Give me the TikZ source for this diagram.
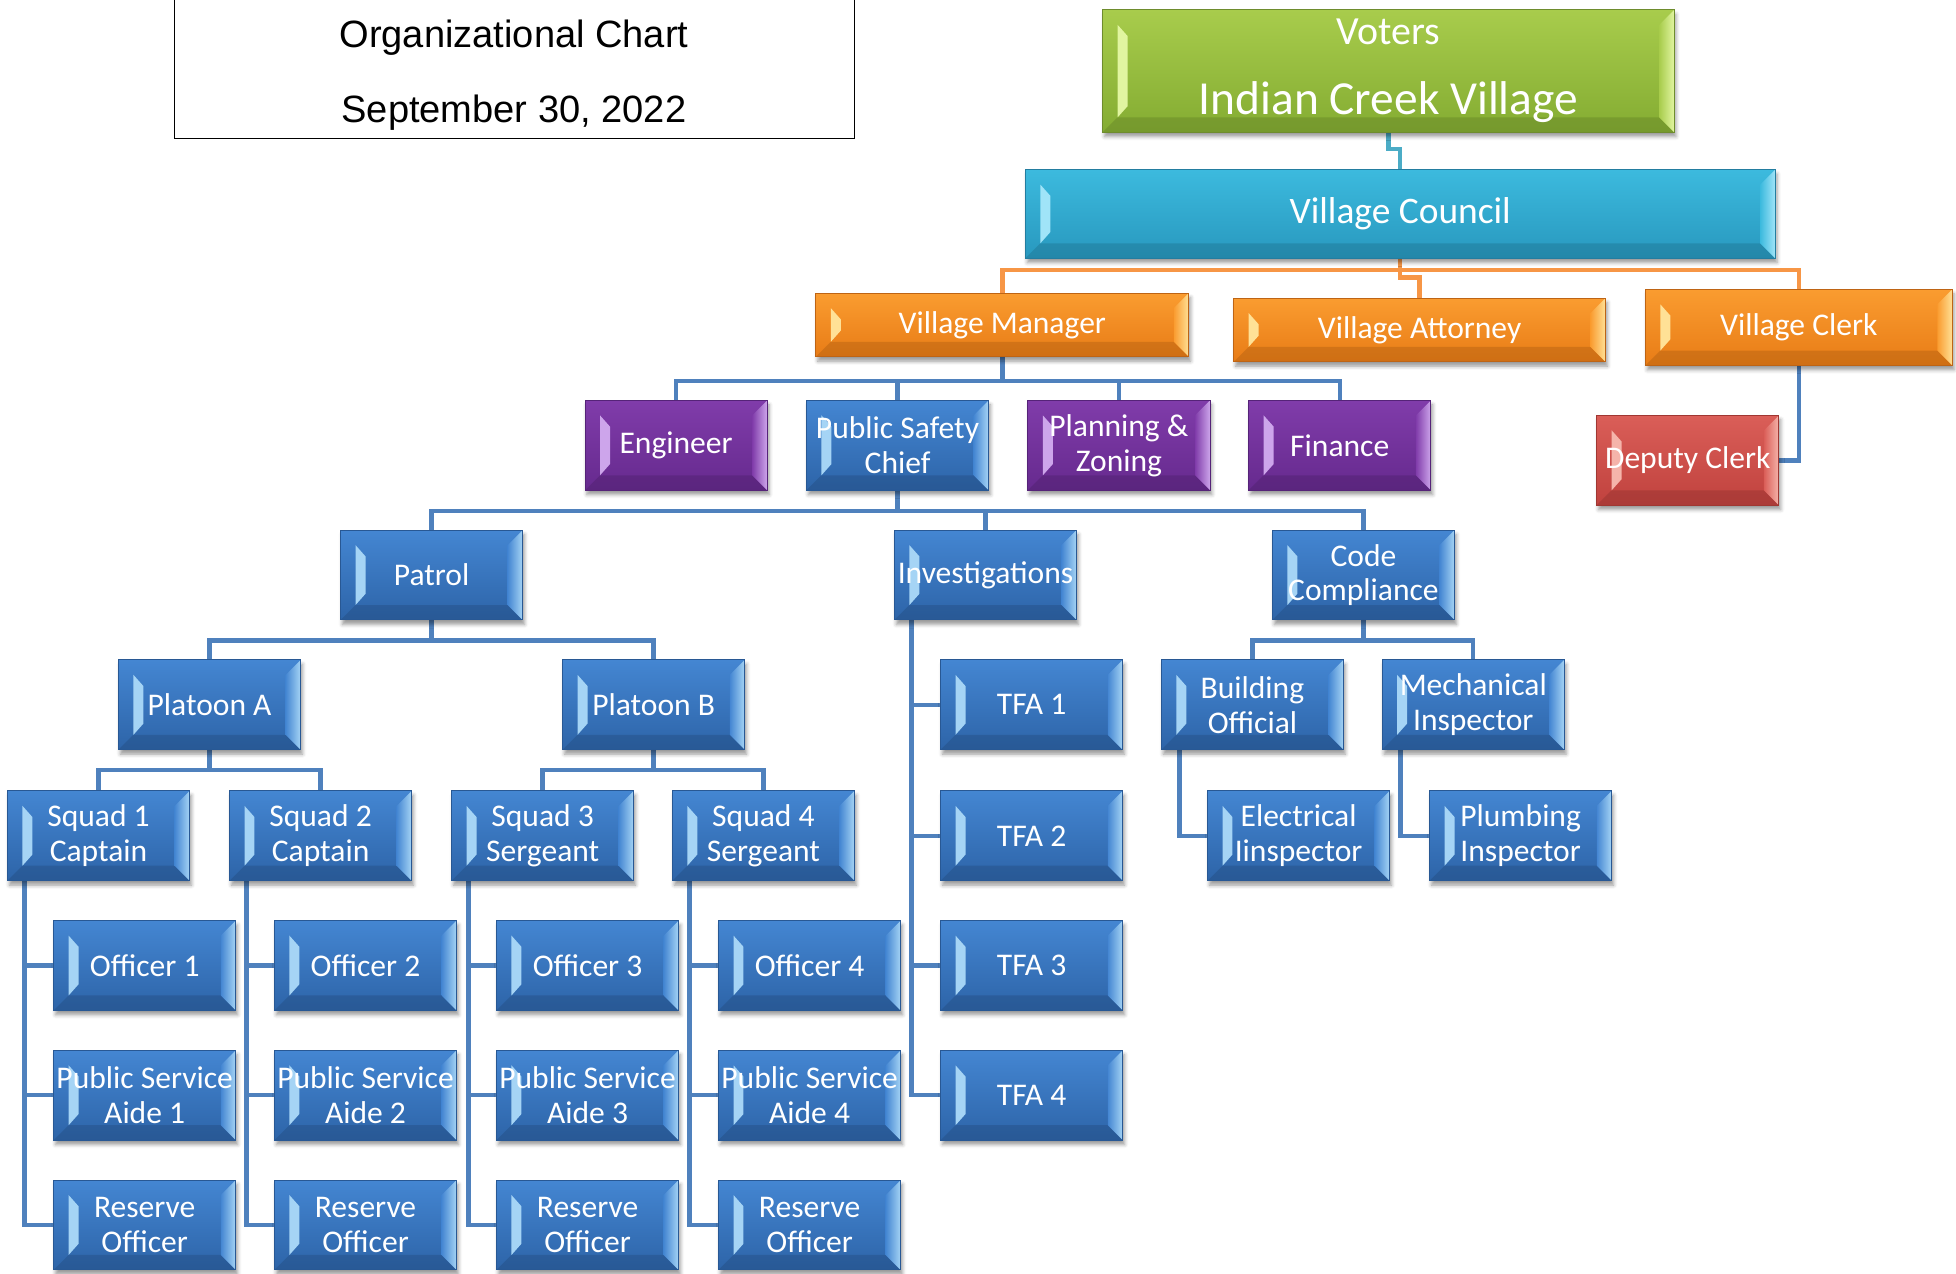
\documentclass[tikz,border=0pt]{standalone}
\usepackage{fontspec}
\setmainfont{Carlito}
\newfontfamily\arialf{Liberation Sans}
\usetikzlibrary{calc,shadows.blur}
\pgfdeclarelayer{background}
\pgfsetlayers{background,main}
\definecolor{blueT}{RGB}{68,134,210}
\definecolor{blueB}{RGB}{45,100,168}
\definecolor{blueD}{RGB}{40,88,148}
\definecolor{blueL}{RGB}{165,212,245}
\definecolor{purpT}{RGB}{128,60,170}
\definecolor{purpB}{RGB}{102,42,142}
\definecolor{purpD}{RGB}{85,35,120}
\definecolor{purpL}{RGB}{205,165,235}
\definecolor{oranT}{RGB}{250,156,48}
\definecolor{oranB}{RGB}{232,124,22}
\definecolor{oranD}{RGB}{190,100,20}
\definecolor{oranL}{RGB}{255,225,150}
\definecolor{grenT}{RGB}{168,204,76}
\definecolor{grenB}{RGB}{132,172,50}
\definecolor{grenD}{RGB}{110,140,45}
\definecolor{grenL}{RGB}{225,245,160}
\definecolor{cyanT}{RGB}{60,186,222}
\definecolor{cyanB}{RGB}{40,152,190}
\definecolor{cyanD}{RGB}{35,125,160}
\definecolor{cyanL}{RGB}{160,228,248}
\definecolor{redT}{RGB}{218,94,88}
\definecolor{redB}{RGB}{192,66,62}
\definecolor{redD}{RGB}{160,55,50}
\definecolor{redL}{RGB}{245,180,170}
\definecolor{lnblue}{RGB}{79,129,189}
\definecolor{lnoran}{RGB}{247,150,70}
\definecolor{lnteal}{RGB}{75,172,198}
\begin{document}
\begin{tikzpicture}[x=1pt,y=-1pt,
  box/.style={rectangle, inner sep=0pt, align=center, text=white,
    font=\fontsize{25.3}{28}\selectfont,
    minimum width=146pt, minimum height=72pt,
    draw=#1D, line width=0.8pt, top color=#1T, bottom color=#1B,
    blur shadow={shadow xshift=1.5pt, shadow yshift=-3.5pt, shadow blur radius=3pt, shadow opacity=40},
    path picture={
      \path (path picture bounding box.north west) coordinate (pA)
            (path picture bounding box.south east) coordinate (pB);
      \fill[#1B!70!black, opacity=0.35] let \p1=(pA),\p2=(pB) in
        (\x1,\y2) -- (\x1+12pt,\y2+12pt) -- (\x2-12pt,\y2+12pt) -- (\x2,\y2) -- cycle;
      \fill[#1L] let \p1=(pA),\p2=(pB) in
        (\x1+12pt,\y1-12pt) -- (\x1+20pt,\y1-21pt) -- (\x1+20pt,\y2+21pt) -- (\x1+12pt,\y2+12pt) -- cycle;
      \shade[left color=#1T, right color=#1L] let \p1=(pA),\p2=(pB) in
        (\x2,\y1) -- (\x2-12pt,\y1-12pt) -- (\x2-12pt,\y2+12pt) -- (\x2,\y2) -- cycle;
    }},
  bl/.style={draw=lnblue, line width=3.5pt},
  ol/.style={draw=lnoran, line width=3.5pt},
  tl/.style={draw=lnteal, line width=3.5pt},
  ttl/.style={font=\arialf\fontsize{30.5}{34}\selectfont, inner sep=0pt}
]
\useasboundingbox (0,0) rectangle (1568,1021);

% title
\node[draw=black, line width=1pt, minimum width=545pt, minimum height=140pt, inner sep=0pt] (tb) at (412.5,41) {};
\node[ttl] (t1) at (412,30) {Organizational Chart};
\node[ttl] (t2) at (412,90) {September 30, 2022};

% top
\node[box=gren, minimum width=458pt, minimum height=98pt, font=\fontsize{32}{56}\selectfont] (vo) at (1113,57)
  {Voters\\{\fontsize{38}{56}\selectfont Indian Creek Village}};
\node[box=cyan, minimum width=601pt, minimum height=71pt, font=\fontsize{30}{34}\selectfont] (vc) at (1122.5,171.5) {Village Council};
\node[box=oran, minimum width=299pt, minimum height=51pt] (vm) at (803.5,260.5) {Village Manager};
\node[box=oran, minimum width=298pt, minimum height=51pt] (va) at (1138,264.5) {Village Attorney};
\node[box=oran, minimum width=246pt, minimum height=61pt] (vcl) at (1442,262.5) {Village Clerk};

\node[box=purp] (eng) at (542,357) {Engineer};
\node[box=blue] (psc) at (719.5,357) {Public Safety\\Chief};
\node[box=purp] (pz) at (897,357) {Planning \&\\Zoning};
\node[box=purp] (fin) at (1074,357) {Finance};
\node[box=red] (dc) at (1353,369) {Deputy Clerk};

\node[box=blue] (pat) at (346,461) {Patrol};
\node[box=blue] (inv) at (790,461) {Investigations};
\node[box=blue] (cc) at (1093,461) {Code\\Compliance};

\node[box=blue] (pla) at (168,565) {Platoon A};
\node[box=blue] (plb) at (524,565) {Platoon B};
\node[box=blue] (tfa1) at (827,565) {TFA 1};
\node[box=blue] (bo) at (1004,565) {Building\\Official};
\node[box=blue] (mi) at (1181,565) {Mechanical\\Inspector};

\node[box=blue] (s1) at (79,670) {Squad 1\\Captain};
\node[box=blue] (s2) at (257,670) {Squad 2\\Captain};
\node[box=blue] (s3) at (435,670) {Squad 3\\Sergeant};
\node[box=blue] (s4) at (612,670) {Squad 4\\Sergeant};
\node[box=blue] (tfa2) at (827,670) {TFA 2};
\node[box=blue] (ei) at (1041,670) {Electrical\\Iinspector};
\node[box=blue] (pi) at (1219,670) {Plumbing\\Inspector};

\node[box=blue] (o1) at (116,774) {Officer 1};
\node[box=blue] (o2) at (293,774) {Officer 2};
\node[box=blue] (o3) at (471,774) {Officer 3};
\node[box=blue] (o4) at (649,774) {Officer 4};
\node[box=blue] (tfa3) at (827,774) {TFA 3};

\node[box=blue] (p1) at (116,878) {Public Service\\Aide 1};
\node[box=blue] (p2) at (293,878) {Public Service\\Aide 2};
\node[box=blue] (p3) at (471,878) {Public Service\\Aide 3};
\node[box=blue] (p4) at (649,878) {Public Service\\Aide 4};
\node[box=blue] (tfa4) at (827,878) {TFA 4};

\node[box=blue] (r1) at (116,982) {Reserve\\Officer};
\node[box=blue] (r2) at (293,982) {Reserve\\Officer};
\node[box=blue] (r3) at (471,982) {Reserve\\Officer};
\node[box=blue] (r4) at (649,982) {Reserve\\Officer};

\begin{pgfonlayer}{background}
\draw[tl] (vo.south) -- ++(0,13) -| (vc.north);
\draw[ol] (vc.south) -- ++(0,9) -| (vm.north);
\draw[ol] (vc.south) -- ++(0,9) -| (vcl.north);
\draw[ol] (vc.south) -- ++(0,15) -| (va.north);
\draw[bl] (vcl.south) |- (dc.east);
\foreach \c in {eng,psc,pz,fin} \draw[bl] (vm.south) -- ++(0,19) -| (\c.north);
\foreach \c in {pat,inv,cc} \draw[bl] (psc.south) -- ++(0,16) -| (\c.north);
\foreach \c in {pla,plb} \draw[bl] (pat.south) -- ++(0,16) -| (\c.north);
\foreach \c in {bo,mi} \draw[bl] (cc.south) -- ++(0,16) -| (\c.north);
\foreach \c in {s1,s2} \draw[bl] (pla.south) -- ++(0,16) -| (\c.north);
\foreach \c in {s3,s4} \draw[bl] (plb.south) -- ++(0,16) -| (\c.north);
\foreach \c in {tfa1,tfa2,tfa3,tfa4} \draw[bl] ($(inv.south west)+(14,0)$) |- (\c.west);
\draw[bl] ($(bo.south west)+(15,0)$) |- (ei.west);
\draw[bl] ($(mi.south west)+(15,0)$) |- (pi.west);
\foreach \s/\a/\b/\c in {s1/o1/p1/r1, s2/o2/p2/r2, s3/o3/p3/r3, s4/o4/p4/r4} {
  \draw[bl] ($(\s.south west)+(14,0)$) |- (\a.west);
  \draw[bl] ($(\s.south west)+(14,0)$) |- (\b.west);
  \draw[bl] ($(\s.south west)+(14,0)$) |- (\c.west);
}
\end{pgfonlayer}
\end{tikzpicture}
\end{document}
